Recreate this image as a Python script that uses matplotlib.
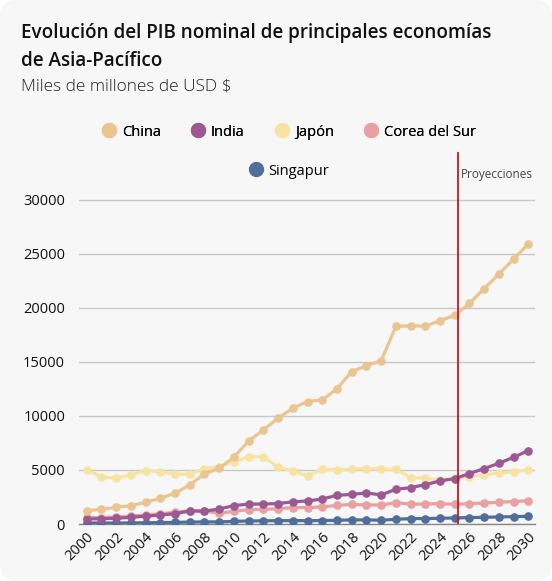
import numpy as np
import matplotlib
matplotlib.use("Agg")
import matplotlib.pyplot as plt
from matplotlib.lines import Line2D
from matplotlib.patches import FancyBboxPatch

plt.rcParams.update({
    "font.family": ["Open Sans", "DejaVu Sans"],
    "font.size": 10.5,
})

# data, miles de millones de USD
years = list(range(2000, 2031))
china = [1230, 1360, 1540, 1700, 2000, 2380, 2840, 3610, 4630, 5150,
         6170, 7680, 8700, 9780, 10710, 11320, 11480, 12500, 14100, 14630,
         15090, 18270, 18330, 18300, 18800, 19290, 20400, 21760, 23120, 24500, 25900]
india = [470, 490, 520, 620, 720, 830, 950, 1200, 1190, 1390,
         1700, 1840, 1850, 1890, 2050, 2130, 2310, 2650, 2740, 2870,
         2690, 3210, 3360, 3640, 3980, 4200, 4660, 5120, 5620, 6170, 6790]
japon = [5000, 4380, 4230, 4540, 4940, 4840, 4600, 4600, 5120, 5310,
         5770, 6230, 6230, 5250, 4900, 4470, 5060, 5000, 5090, 5120,
         5090, 5040, 4290, 4230, 4040, 4260, 4380, 4540, 4690, 4840, 5000]
corea = [600, 580, 660, 740, 820, 950, 1080, 1230, 1200, 990,
         1170, 1330, 1350, 1420, 1520, 1520, 1580, 1720, 1810, 1760,
         1750, 1980, 1830, 1850, 1880, 1820, 1880, 1940, 2010, 2080, 2160]
singapur = [96, 90, 92, 98, 115, 128, 148, 180, 193, 194,
            240, 280, 295, 307, 315, 308, 319, 343, 377, 376,
            349, 434, 499, 501, 530, 565, 590, 620, 650, 680, 710]

series = [("China", china, "#ecc490"),
          ("India", india, "#9c5893"),
          ("Japón", japon, "#f7e4a2"),
          ("Corea del Sur", corea, "#e9a0a0"),
          ("Singapur", singapur, "#4f6e9c")]

bg = "#f7f7f7"
fig = plt.figure(figsize=(5.52, 5.81), dpi=100)
fig.patch.set_facecolor("white")
fig.patches.append(FancyBboxPatch((0, 0), 1, 1, boxstyle="round,pad=0,rounding_size=0.03",
                                  transform=fig.transFigure, facecolor=bg, edgecolor="none",
                                  zorder=-10))

ax = fig.add_axes([79/552, 57/581, 456/552, 372/581])
ax.set_facecolor(bg)

# draw in reverse so China sits on top
for name, vals, col in series[::-1]:
    ax.plot(years, vals, color=col, lw=2.3, marker="o", ms=5.2, zorder=3)

ax.axvline(2025.2, color="#c8171d", lw=1.3, zorder=4)
ax.text(2025.4, 32300, "Proyecciones", fontsize=8.5, color="#444444", ha="left", va="center")

ax.set_xlim(1999.48, 2030.45)
ax.set_ylim(0, 34400)
ax.set_yticks(range(0, 30001, 5000))
ax.set_xticks(range(2000, 2031, 2))
ax.set_xticklabels([str(y) for y in range(2000, 2031, 2)], rotation=45, ha="right",
                   rotation_mode="anchor", fontsize=10.5, color="#111111")
ax.tick_params(axis="y", length=0, pad=10, labelsize=10.5, labelcolor="#111111")
ax.tick_params(axis="x", length=0, pad=4)
ax.grid(axis="y", color="#c8c8c8", lw=1)
ax.set_axisbelow(True)
for s in ["top", "right", "left"]:
    ax.spines[s].set_visible(False)
ax.spines["bottom"].set_color("#888888")
ax.spines["bottom"].set_linewidth(1)
ax.spines["bottom"].set_zorder(2)

handles = [Line2D([], [], ls="none", marker="o", ms=10, color=c, label=n)
           for n, v, c in series]
leg1 = fig.legend(handles=handles[:4], loc="center", bbox_to_anchor=(287/552, 1 - 132/581),
                  ncol=4, frameon=False, fontsize=10.5, handletextpad=0.15, columnspacing=1.8,
                  handlelength=1.5)
fig.legend(handles=handles[4:], loc="center", bbox_to_anchor=(287/552, 1 - 171/581),
           frameon=False, fontsize=10.5, handletextpad=0.15, handlelength=1.5)
fig.add_artist(leg1)

fig.text(21/552, 1 - 47/581, "Evolución del PIB nominal de principales economías\nde Asia-Pacífico",
         fontsize=13.6, fontweight="semibold", ha="left", va="center", linespacing=1.55,
         color="#111111")
fig.text(21/552, 1 - 86/581, "Miles de millones de USD $", fontsize=12.4, fontweight="light",
         ha="left", va="center", color="#222222")

fig.savefig("out.png", dpi=100, facecolor=fig.get_facecolor())
